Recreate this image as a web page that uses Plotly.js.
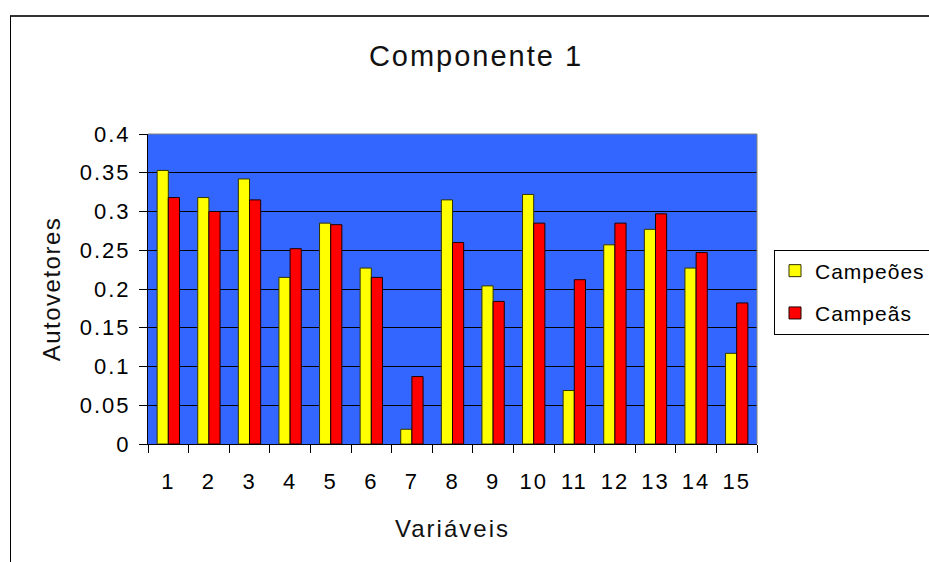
<!DOCTYPE html>
<html>
<head>
<meta charset="utf-8">
<script src="https://cdn.plot.ly/plotly-3.0.1.min.js"></script>
<style>
  html, body { margin: 0; padding: 0; width: 929px; height: 562px; overflow: hidden; background: #fff; }
  #frame { position: absolute; left: 10px; top: 15px; width: 1000px; height: 600px;
           border-left: 1px solid #000; border-top: 2px solid #333; pointer-events: none; z-index: 5; }
  #chart { position: absolute; left: 0; top: 0; width: 929px; height: 562px; }
  .gtitle { letter-spacing: 2px; }
  .xtick text, .ytick text { letter-spacing: 2px; }
  .xtitle { letter-spacing: 2px; }
  .ytitle { letter-spacing: 1.5px; }
  .legendtext { letter-spacing: 1px; }
</style>
</head>
<body>
<div id="chart"></div>
<div id="frame"></div>
<script>
const categories = ["1","2","3","4","5","6","7","8","9","10","11","12","13","14","15"];
const campeoes = [0.353,0.318,0.342,0.215,0.285,0.227,0.019,0.315,0.204,0.322,0.069,0.257,0.277,0.227,0.117];
const campeas  = [0.318,0.300,0.315,0.252,0.283,0.215,0.087,0.260,0.184,0.285,0.212,0.285,0.297,0.247,0.182];
const seriesNames = ["Campeões","Campeãs"];

const FONT = "Liberation Sans, Arial, sans-serif";

const traces = [
  { type: "bar", name: seriesNames[0], x: categories, y: campeoes, legendgroup: "a",
    marker: { color: "#FFFF00", line: { color: "#333300", width: 1 } } },
  { type: "bar", name: seriesNames[1], x: categories, y: campeas, legendgroup: "b",
    marker: { color: "#FF0000", line: { color: "#1a0000", width: 1 } } }
];

const layout = {
  width: 929, height: 562,
  margin: { l: 148, r: 172, t: 134, b: 118, pad: 0, autoexpand: false },
  paper_bgcolor: "#FFFFFF",
  plot_bgcolor: "#3366FF",
  barmode: "group",
  bargap: 0.45,
  bargroupgap: 0,
  font: { family: FONT, color: "#000", size: 22 },
  title: { text: "Componente 1", font: { family: FONT, size: 29, color: "#111" },
           x: 476/929, xref: "container", xanchor: "center", y: 1 - 56/562, yanchor: "middle" },
  xaxis: {
    type: "category", tickson: "boundaries", ticks: "outside", ticklen: 8, tickcolor: "#000", tickwidth: 1,
    showline: true, linecolor: "#000", linewidth: 1, showgrid: false, zeroline: false,
    tickfont: { family: FONT, size: 22, color: "#000" }, ticklabelstandoff: 18, automargin: false,
    title: { text: "Variáveis", font: { family: FONT, size: 24, color: "#111" }, standoff: 26 }
  },
  yaxis: {
    range: [0, 0.4], dtick: 0.05, tick0: 0, ticks: "outside", ticklen: 8, tickcolor: "#000", tickwidth: 1,
    showline: true, linecolor: "#000", linewidth: 1, showgrid: true, gridcolor: "#000", gridwidth: 1,
    zeroline: false, tickfont: { family: FONT, size: 22, color: "#000" }, ticklabelstandoff: 4, automargin: false,
    title: { text: "Autovetores", font: { family: FONT, size: 24, color: "#111" }, standoff: 12 }
  },
  showlegend: true,
  legend: {
    x: (774 - 148) / 609, xanchor: "left", y: (443.5 - 249) / 310, yanchor: "top",
    bgcolor: "#FFFFFF", bordercolor: "#000", borderwidth: 1,
    font: { family: FONT, size: 21, color: "#000" },
    traceorder: "grouped", tracegroupgap: 12
  },
  shapes: [
    { type: "line", xref: "paper", yref: "paper", x0: 0, x1: 1, y0: 1, y1: 1, line: { color: "#808080", width: 1 } },
    { type: "line", xref: "paper", yref: "paper", x0: 1, x1: 1, y0: 0, y1: 1, line: { color: "#808080", width: 1 } }
  ]
};

Plotly.newPlot("chart", traces, layout, { displayModeBar: false, staticPlot: true });
</script>
</body>
</html>
